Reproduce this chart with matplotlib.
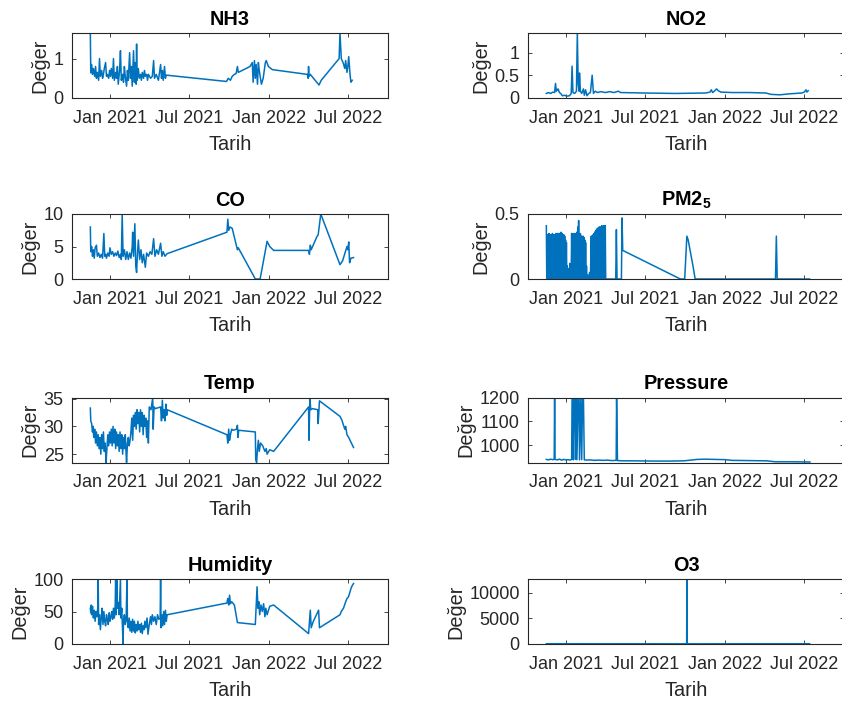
import numpy as np
import matplotlib
matplotlib.use('Agg')
import matplotlib.pyplot as plt
import matplotlib.dates as mdates

plt.rcParams['font.family'] = ['Liberation Sans', 'DejaVu Sans']
plt.rcParams['mathtext.fontset'] = 'custom'
plt.rcParams['mathtext.rm'] = 'Liberation Sans'
plt.rcParams['mathtext.bf'] = 'Liberation Sans:bold'

# ---------------- data (days since 2021-01-01, value) ----------------
START = '2021-01-01'

nh3_days = [-45, -44, -42, -40, -38, -35, -33, -31, -29, -26, -24, -22, -19, -17, -15, -13, -10, -8, -6, -3,
            -1, 1, 3, 6, 8, 10, 13, 15, 17, 19, 22, 24, 26, 29, 31, 33, 35, 38, 40, 42, 45, 47, 49, 51, 54,
            56, 58, 60, 61, 62, 65, 67, 70, 72, 74, 77, 79, 81, 84, 86, 88, 93, 97, 100, 102, 106, 111, 116,
            118, 120, 122, 125, 127, 129, 267, 271, 276, 280, 285, 289, 292, 294, 321, 326, 328, 331, 333,
            335, 338, 340, 342, 347, 351, 356, 358, 363, 372, 452, 454, 455, 456, 459, 470, 479, 484, 525,
            527, 530, 534, 538, 540, 543, 545, 547, 550, 552, 555]
nh3_vals = [1.65, 0.64, 0.85, 0.6, 0.75, 0.55, 0.8, 0.5, 0.65, 0.45, 1.0, 0.55, 0.7, 0.5, 0.6, 0.75, 0.9, 0.55,
            0.6, 0.5, 0.7, 0.55, 0.75, 0.5, 1.0, 0.45, 0.65, 0.5, 0.8, 0.35, 0.7, 1.2, 0.45, 0.6, 0.4, 0.8,
            0.55, 0.3, 0.7, 0.45, 1.15, 0.5, 0.8, 0.3, 1.2, 0.4, 0.9, 0.35, 1.37, 0.45, 0.75, 0.5, 0.6, 0.45,
            0.65, 0.5, 0.7, 0.55, 0.6, 0.45, 0.6, 0.5, 0.55, 0.95, 0.5, 0.6, 0.45, 0.85, 0.5, 0.7, 0.45, 0.8,
            0.5, 0.58, 0.42, 0.5, 0.45, 0.55, 0.6, 0.62, 0.8, 0.65, 0.8, 0.9, 0.4, 0.95, 0.5, 0.85, 0.35, 0.9,
            0.7, 0.35, 0.5, 0.9, 0.95, 0.8, 0.72, 0.6, 0.5, 0.8, 0.55, 0.6, 0.45, 0.33, 0.45, 1.0, 1.65, 1.0,
            0.9, 0.75, 0.95, 0.65, 0.8, 1.05, 0.6, 0.4, 0.45]

no2_days = [-45, -40, -35, -30, -26, -24, -22, -20, -18, -15, -12, -8, -3, 2, 8, 12, 14, 16, 20, 24, 26, 28,
            30, 31, 33, 36, 40, 42, 45, 48, 52, 56, 60, 63, 67, 72, 80, 90, 100, 110, 120, 125, 180, 250,
            320, 330, 333, 336, 340, 345, 349, 355, 380, 420, 458, 470, 490, 510, 540, 546, 550, 552, 555]
no2_vals = [0.1, 0.12, 0.1, 0.13, 0.12, 0.32, 0.15, 0.18, 0.2, 0.12, 0.1, 0.05, 0.06, 0.04, 0.05, 0.1, 0.7,
            0.12, 0.1, 0.15, 1.43, 0.3, 0.15, 0.55, 0.15, 0.1, 0.2, 0.06, 0.18, 0.05, 0.1, 0.12, 0.5, 0.1,
            0.15, 0.12, 0.14, 0.12, 0.14, 0.12, 0.15, 0.12, 0.11, 0.1, 0.11, 0.13, 0.18, 0.12, 0.15, 0.2,
            0.16, 0.13, 0.12, 0.12, 0.11, 0.08, 0.07, 0.09, 0.11, 0.13, 0.18, 0.13, 0.16]

co_days = [-45, -44, -42, -40, -38, -36, -34, -31, -29, -26, -23, -20, -17, -14, -12, -10, -8, -5, -2, 0, 3,
           6, 9, 12, 15, 18, 21, 24, 26, 28, 30, 33, 36, 39, 42, 45, 48, 51, 52, 54, 57, 59, 61, 63, 65, 68,
           71, 74, 77, 81, 84, 88, 92, 96, 100, 103, 107, 111, 116, 119, 122, 126, 131, 268, 270, 272, 275,
           280, 292, 294, 333, 344, 360, 366, 375, 455, 457, 459, 461, 474, 477, 483, 527, 533, 543, 545,
           547, 549, 552, 558]
co_vals = [8.0, 4.2, 5.0, 3.5, 4.5, 3.2, 4.8, 5.2, 3.5, 4.0, 3.3, 3.8, 3.2, 7.0, 3.5, 3.8, 3.2, 4.0, 3.5, 4.8,
           3.8, 4.2, 3.5, 4.0, 3.6, 4.3, 3.3, 3.8, 3.0, 10.0, 3.5, 4.5, 3.0, 4.2, 3.0, 4.0, 3.2, 5.0, 7.2,
           3.5, 8.5, 2.0, 1.0, 4.0, 6.0, 3.0, 4.5, 2.5, 3.8, 1.8, 4.0, 3.5, 4.2, 3.8, 6.2, 3.5, 4.5, 3.8,
           5.5, 3.5, 4.2, 3.5, 3.9, 7.2, 9.2, 7.5, 8.0, 7.8, 4.5, 4.8, 0.0, 0.0, 5.8, 5.0, 4.4, 4.4, 3.8,
           5.2, 4.5, 6.5, 6.8, 10.0, 2.2, 2.8, 5.0, 4.5, 5.7, 2.5, 3.2, 3.3]

pm_days = [-45, -44, -43, -42, -41, -40, -39, -38, -37, -36, -35, -34, -33, -32, -31, -30, -29, -28, -27, -26,
           -25, -24, -23, -22, -21, -20, -19, -18, -17, -16, -15, -14, -13, -12, -11, -10, -9, -8, -7, -6,
           -5, -4, -3, -2, -1, 0, 1, 2,
           3, 4, 6, 7, 9, 10, 12,
           13, 14, 15, 16, 17, 18, 19, 20, 21, 22, 23, 24, 25, 26, 27, 28, 29, 30, 31, 32, 33, 34, 35, 36,
           37, 38, 39, 40, 41, 42, 43, 44, 45, 46, 47,
           48, 50, 52, 54, 56,
           58, 59, 60, 61, 62, 63, 64, 65, 66, 67, 68, 69, 70, 71, 72, 73, 74, 75, 76, 77, 78, 79, 80, 81,
           82, 83, 84, 85, 86, 87, 88, 89, 90,
           91, 114, 115.5, 117, 127, 128.5, 130, 262, 272, 277, 280, 291, 296, 480, 482, 484, 558]
pm_vals = [0.41, 0, 0.34, 0, 0.34, 0, 0.35, 0, 0.34, 0, 0.34, 0, 0.34, 0, 0.35, 0, 0.34, 0, 0.34, 0,
           0.34, 0, 0.35, 0, 0.34, 0, 0.35, 0, 0.35, 0, 0.35, 0, 0.34, 0, 0.36, 0, 0.35, 0, 0.34, 0,
           0.34, 0, 0.33, 0, 0.3, 0, 0.28, 0,
           0.1, 0, 0.08, 0, 0.12, 0, 0.05,
           0.35, 0, 0.35, 0, 0.34, 0, 0.35, 0, 0.34, 0, 0.35, 0, 0.36, 0, 0.4, 0, 0.45, 0, 0.33, 0, 0.35,
           0, 0.33, 0, 0.32, 0, 0.33, 0, 0.32, 0, 0.3, 0, 0.28, 0, 0.1,
           0, 0.03, 0, 0.05, 0,
           0.33, 0, 0.33, 0, 0.34, 0, 0.35, 0, 0.36, 0, 0.37, 0, 0.38, 0, 0.39, 0, 0.39, 0, 0.4, 0, 0.4, 0,
           0.4, 0, 0.41, 0, 0.4, 0, 0.41, 0, 0.41, 0, 0.41,
           0, 0, 0.38, 0, 0, 0.47, 0.22, 0, 0, 0.33, 0.3, 0.1, 0, 0, 0.33, 0, 0]

temp_days = [-45, -44, -42, -40, -39, -37, -35, -33, -31, -29, -27, -25, -23, -21, -19, -17, -15, -13, -11, -9,
             -7, -5, -3, -1, 1, 3, 5, 7, 9, 11, 13, 15, 17, 19, 21, 23, 25, 27, 29, 31, 33, 35, 37, 38, 40,
             42, 44, 46, 48, 50, 52, 54, 56, 58, 60, 62, 64, 66, 68, 70, 72, 74, 76, 78, 80, 82, 84, 86, 88,
             90, 94, 98, 99, 101, 104, 116, 118, 120, 122, 124, 126, 128, 130, 131, 268, 270, 272, 274, 276,
             279, 282, 290, 292, 293, 295, 333, 334, 336, 338, 340, 342, 345, 350, 355, 358, 360, 366, 375,
             455, 456, 458, 460, 464, 476, 477, 480, 527, 531, 538, 540, 543, 547, 558]
temp_vals = [33.3, 31.0, 30.5, 29.0, 30.0, 28.0, 29.5, 27.0, 29.0, 26.5, 28.5, 26.0, 28.0, 25.0, 28.5, 26.0,
             29.0, 25.5, 27.0, 23.5, 26.0, 28.5, 26.5, 29.0, 27.0, 29.5, 26.5, 30.0, 27.0, 29.5, 26.0, 29.0,
             26.5, 28.5, 25.5, 29.0, 26.0, 28.5, 25.0, 28.0, 26.0, 28.5, 25.0, 23.5, 27.0, 28.0, 26.5, 27.5,
             29.0, 31.5, 27.5, 32.0, 30.0, 32.5, 29.5, 33.0, 30.5, 32.5, 29.0, 33.0, 30.0, 32.5, 28.5, 32.0,
             30.0, 31.5, 28.0, 31.0, 27.0, 33.5, 33.0, 35.2, 29.5, 33.5, 33.2, 33.5, 31.0, 34.7, 31.5, 33.0,
             31.0, 34.0, 32.0, 33.0, 28.5, 27.0, 29.5, 27.5, 28.5, 29.5, 29.3, 29.5, 30.2, 28.0, 29.3, 29.0,
             24.0, 23.5, 26.0, 27.5, 25.5, 27.0, 26.5, 25.5, 26.0, 25.0, 25.8, 25.5, 33.5, 27.5, 35.2, 33.0,
             33.2, 33.0, 30.5, 34.6, 31.8, 31.2, 29.5, 30.0, 28.5, 28.0, 26.2]

pres_days = [-45, -40, -35, -30, -27, -26, -25, -20, -15, -10, -5, 0, 5, 10, 13, 14, 16, 17, 19, 21, 22, 24,
             25, 28, 30, 31, 34, 36, 38, 40, 42, 48, 55, 65, 75, 85, 95, 105, 115, 116, 118, 130, 160, 200,
             240, 270, 291, 300, 320, 340, 365, 380, 420, 460, 480, 520, 559]
pres_vals = [940, 938, 941, 939, 940, 1200, 940, 938, 941, 937, 940, 938, 939, 937, 940, 1200, 1200, 938,
             1200, 1200, 940, 1200, 939, 1200, 1200, 938, 1200, 939, 1200, 1200, 938, 937, 938, 936, 937, 936,
             937, 935, 936, 1200, 935, 934, 934, 933, 933, 934, 938, 940, 941, 940, 939, 936, 935, 934, 930,
             930, 929]

hum_days = [-45, -44, -43, -42, -40, -38, -36, -34, -32, -30, -28, -27, -26, -24, -22, -20, -18, -16, -14, -12,
            -10, -8, -6, -4, -2, 0, 2, 4, 6, 8, 10, 12, 13, 14, 16, 17, 19, 21, 24, 25, 27, 30, 31, 33, 35,
            37, 39, 40, 42, 44, 46, 48, 50, 52, 54, 56, 58, 60, 62, 64, 66, 68, 70, 72, 74, 76, 78, 80, 82,
            85, 87, 90, 93, 95, 97, 100, 103, 106, 109, 112, 115, 116, 117, 119, 121, 123, 125, 127, 129, 131,
            268, 270, 272, 274, 276, 279, 285, 292, 333, 337, 339, 341, 343, 346, 349, 352, 355, 357, 360,
            366, 375, 455, 459, 461, 466, 478, 480, 527, 530, 535, 540, 543, 546, 549, 552, 555, 558]
hum_vals = [55, 48, 60, 45, 58, 40, 52, 35, 50, 42, 55, 100, 30, 45, 22, 40, 55, 30, 50, 35,
            28, 45, 38, 30, 48, 35, 42, 50, 38, 55, 40, 60, 100, 45, 100, 55, 64, 45, 100, 40, 55, 0, 35, 45,
            30, 38, 100, 35, 25, 40, 20, 35, 18, 38, 20, 35, 17, 30, 20, 35, 22, 30, 18, 32, 16, 28, 22, 35,
            25, 40, 15, 30, 42, 30, 45, 35, 42, 30, 45, 38, 40, 100, 25, 45, 28, 50, 30, 52, 35, 45,
            63, 70, 60, 75, 62, 65, 60, 33, 30, 88, 55, 65, 45, 60, 50, 62, 42, 55, 45,
            58, 60, 16, 52, 25, 35, 52, 25, 45, 50, 55, 65, 70, 72, 78, 85, 90, 93]

o3_days = [-45, -20, 10, 40, 80, 131, 268, 275, 276.5, 277, 277.5, 279, 300, 360, 420, 480, 520, 558]
o3_vals = [40, 60, 45, 50, 40, 45, 35, 40, 60, 12700, 50, 40, 35, 40, 45, 40, 45, 50]

panels = [
    # (title, days, values, ylim, yticks, yticklabels, column, row)
    ('NH3', nh3_days, nh3_vals, (0, 1.65), [0, 1], ['0', '1'], 0, 0),
    ('CO', co_days, co_vals, (0, 10), [0, 5, 10], ['0', '5', '10'], 0, 1),
    ('Temp', temp_days, temp_vals, (23.5, 35.2), [25, 30, 35], ['25', '30', '35'], 0, 2),
    ('Humidity', hum_days, hum_vals, (0, 100), [0, 50, 100], ['0', '50', '100'], 0, 3),
    ('NO2', no2_days, no2_vals, (0, 1.43), [0, 0.5, 1], ['0', '0.5', '1'], 1, 0),
    (r'PM2$_\mathbf{5}$', pm_days, pm_vals, (0, 0.5), [0, 0.5], ['0', '0.5'], 1, 1),
    ('Pressure', pres_days, pres_vals, (927, 1200), [1000, 1100, 1200], ['1000', '1100', '1200'], 1, 2),
    ('O3', o3_days, o3_vals, (0, 12700), [0, 5000, 10000], ['0', '5000', '10000'], 1, 3),
]

XLIM = (np.datetime64('2020-10-06'), np.datetime64('2022-09-30'))


def to_dates(days):
    mins = np.round(np.asarray(days, dtype=float) * 1440).astype(np.int64)
    return np.datetime64(START + 'T00:00') + mins.astype('timedelta64[m]')


W, H = 842, 701
fig = plt.figure(figsize=(W / 100, H / 100), dpi=100)

col_left = [72, 528]
ax_w = 316
row_top = [33, 214, 397.5, 579]
ax_h = 65

LINE = '#0072BD'
AXC = '#262626'

for title, days, vals, ylim, yt, ytl, col, row in panels:
    l = col_left[col] / W
    b = 1 - (row_top[row] + ax_h) / H
    ax = fig.add_axes([l, b, ax_w / W, ax_h / H])
    ax.plot(to_dates(days), vals, color=LINE, lw=1.1)
    ax.set_xlim(XLIM)
    ax.set_ylim(ylim)
    ax.set_yticks(yt)
    ax.set_yticklabels(ytl)
    ax.xaxis.set_major_locator(mdates.MonthLocator(bymonth=[1, 7]))
    ax.xaxis.set_major_formatter(mdates.DateFormatter('%b %Y'))
    ax.tick_params(direction='in', length=3, width=0.6, top=True, right=True,
                   labelsize=13, colors=AXC)
    ax.tick_params(axis='x', pad=8.5)
    ax.tick_params(axis='y', pad=6)
    for s in ax.spines.values():
        s.set_color(AXC)
        s.set_linewidth(0.8)
    ax.set_title(title, fontsize=14.3, fontweight='bold', color='black', pad=6)
    ax.set_xlabel('Tarih', fontsize=14.3, color=AXC, labelpad=6)
    ax.set_ylabel('Değer', fontsize=14.3, color=AXC, labelpad=3)

fig.savefig('out.png', dpi=100)
